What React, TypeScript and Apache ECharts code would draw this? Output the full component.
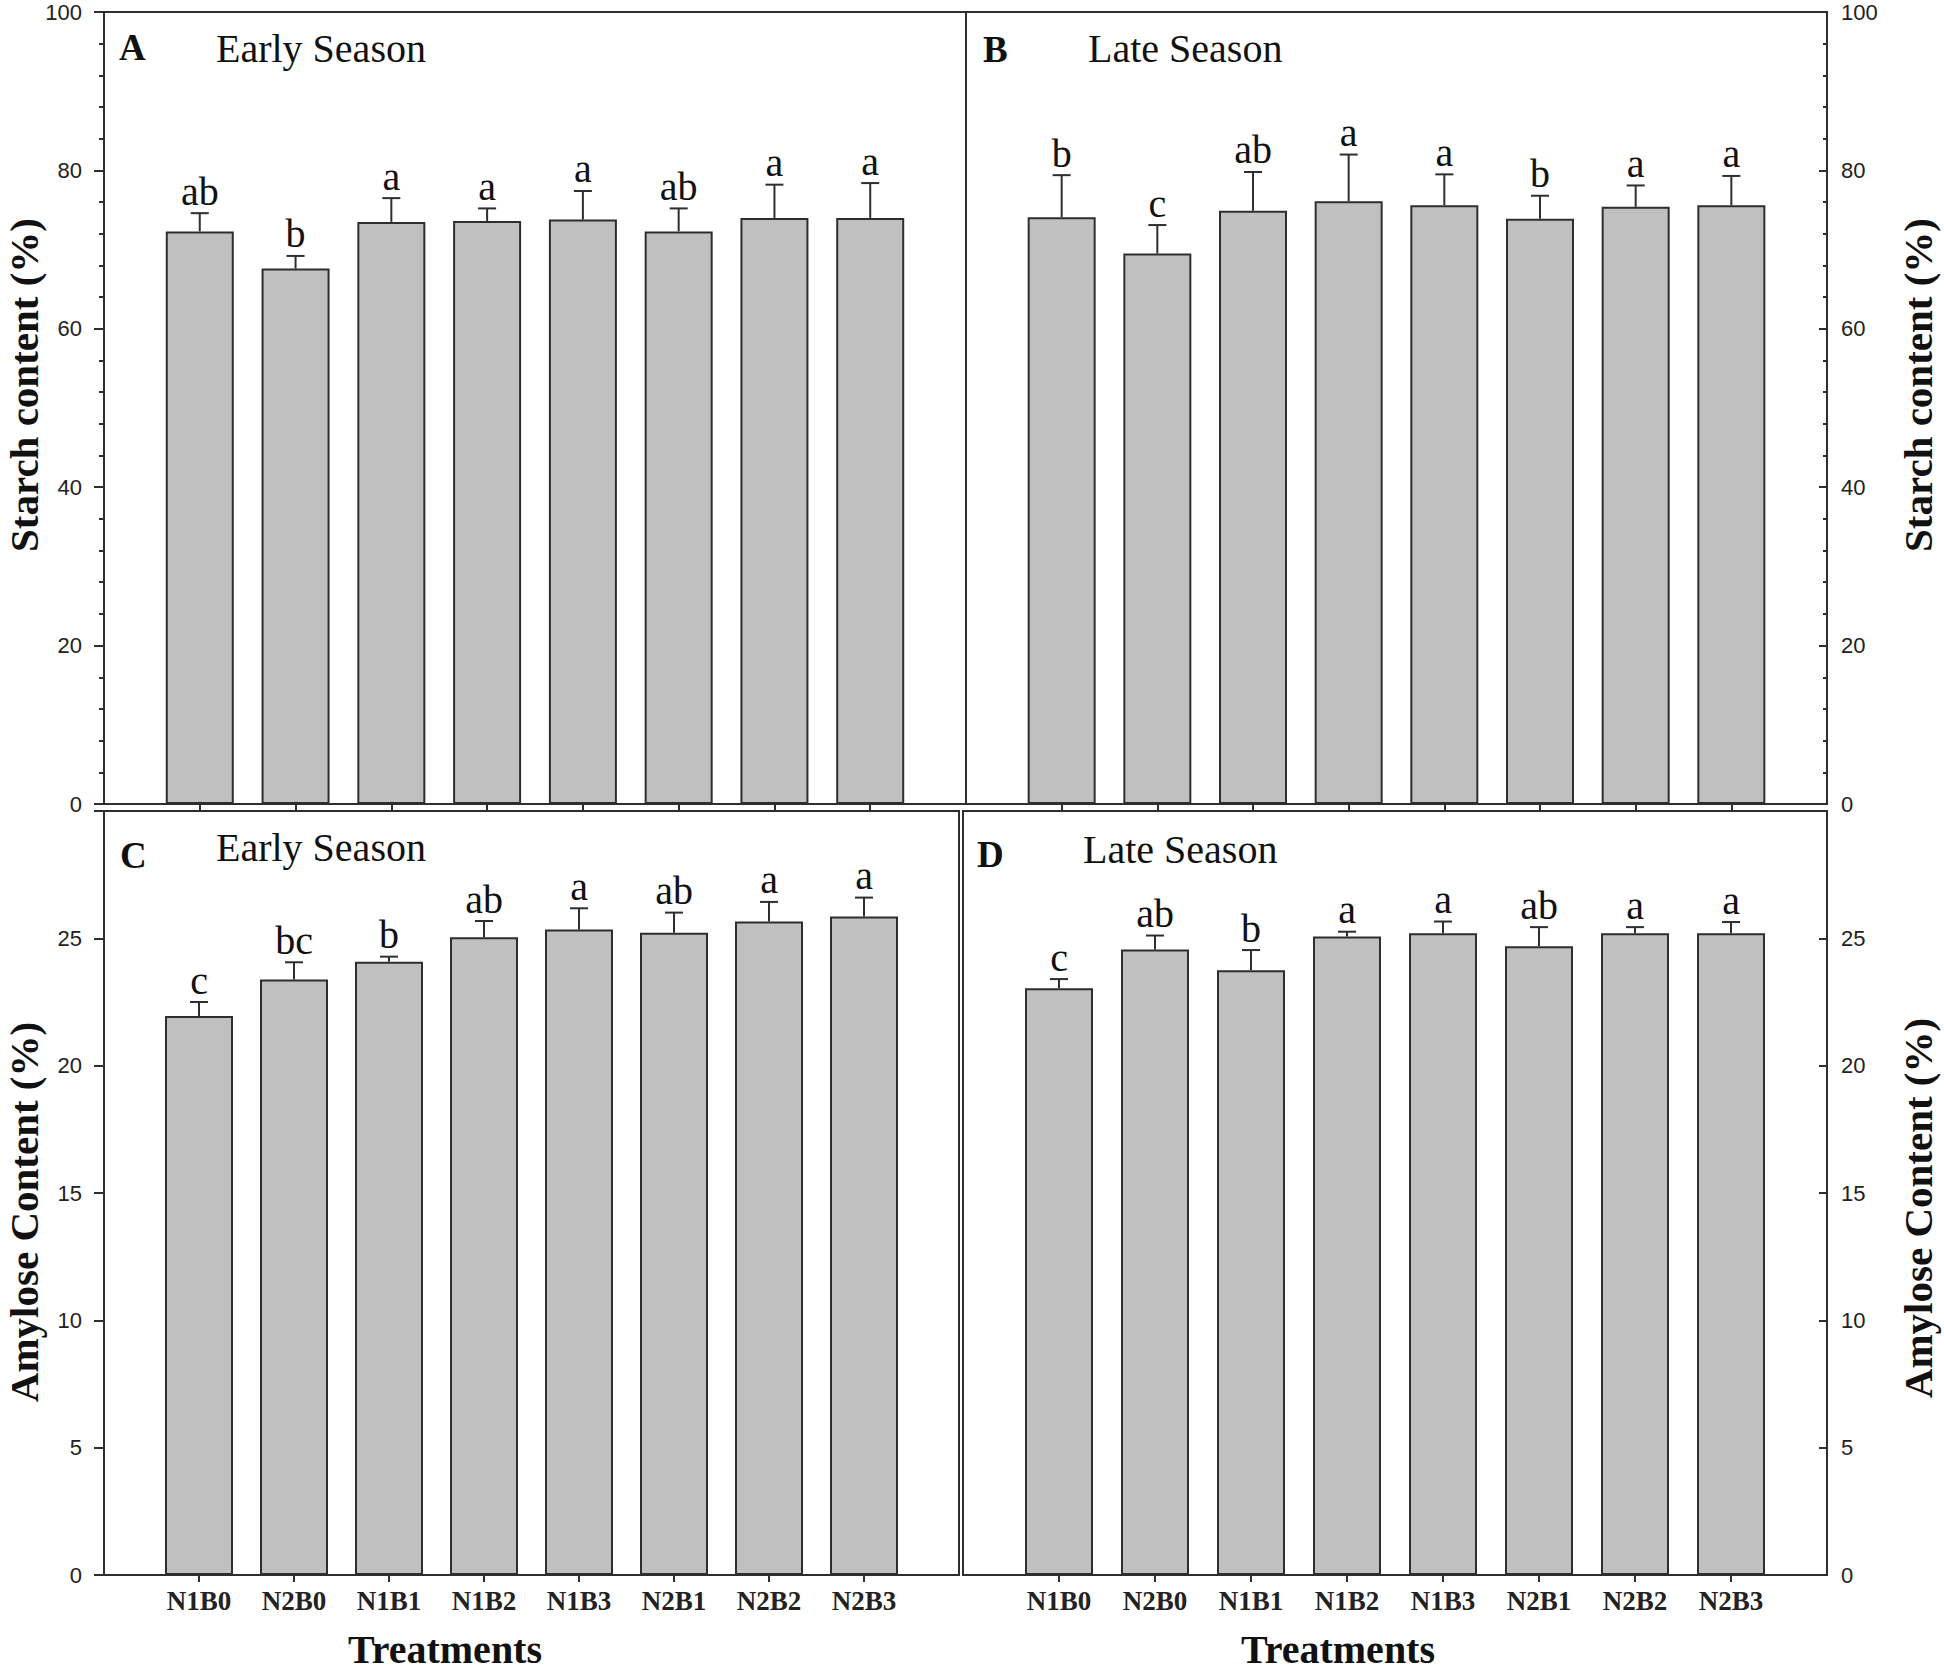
import React, { useEffect, useRef } from 'react';
import * as echarts from 'echarts';

const categories = ['N1B0', 'N2B0', 'N1B1', 'N1B2', 'N1B3', 'N2B1', 'N2B2', 'N2B3'];

const starchEarly = [72.3, 67.6, 73.5, 73.6, 73.8, 72.3, 74.0, 74.0];
const starchEarlyErr = [2.3, 1.6, 3.0, 1.6, 3.6, 2.9, 4.2, 4.4];
const starchEarlyLetters = ['ab', 'b', 'a', 'a', 'a', 'ab', 'a', 'a'];

const starchLate = [74.1, 69.5, 74.9, 76.1, 75.6, 73.9, 75.4, 75.6];
const starchLateErr = [5.3, 3.6, 4.9, 5.9, 3.9, 2.9, 2.7, 3.7];
const starchLateLetters = ['b', 'c', 'ab', 'a', 'a', 'b', 'a', 'a'];

const amyloseEarly = [21.95, 23.38, 24.08, 25.04, 25.35, 25.22, 25.66, 25.86];
const amyloseEarlyErr = [0.55, 0.68, 0.2, 0.64, 0.83, 0.79, 0.77, 0.74];
const amyloseEarlyLetters = ['c', 'bc', 'b', 'ab', 'a', 'ab', 'a', 'a'];

const amyloseLate = [23.04, 24.56, 23.75, 25.07, 25.2, 24.69, 25.2, 25.2];
const amyloseLateErr = [0.36, 0.55, 0.79, 0.19, 0.46, 0.75, 0.24, 0.44];
const amyloseLateLetters = ['c', 'ab', 'b', 'a', 'a', 'ab', 'a', 'a'];

const starchAxis = { min: 0, max: 100, interval: 20 };
const amyloseAxis = { min: 0, max: 30, interval: 5, hiddenLabel: 30 };

const panelTags = ['A', 'B', 'C', 'D'];
const panelTitles = ['Early Season', 'Late Season', 'Early Season', 'Late Season'];
const yTitles = ['Starch content (%)', 'Amylose Content (%)'];
const xTitle = 'Treatments';

const LINE = '#2e2e2e';
const SERIF = '"Liberation Serif", "Times New Roman", serif';
const SANS = '"Liberation Sans", Arial, sans-serif';

export default function App() {
  const ref = useRef<HTMLDivElement>(null);

  useEffect(() => {
    document.body.style.margin = '0';
    const chart = echarts.init(ref.current!, null, { renderer: 'svg' });

    const panels = [
      { grid: { left: 104, top: 12, width: 862, height: 792 }, values: starchEarly, errs: starchEarlyErr, letters: starchEarlyLetters, axis: starchAxis, right: false, minor: true, bottom: false },
      { grid: { left: 966, top: 12, width: 861, height: 792 }, values: starchLate, errs: starchLateErr, letters: starchLateLetters, axis: starchAxis, right: true, minor: true, bottom: false },
      { grid: { left: 104, top: 811, width: 855, height: 764 }, values: amyloseEarly, errs: amyloseEarlyErr, letters: amyloseEarlyLetters, axis: amyloseAxis, right: false, minor: false, bottom: true },
      { grid: { left: 963, top: 811, width: 864, height: 764 }, values: amyloseLate, errs: amyloseLateErr, letters: amyloseLateLetters, axis: amyloseAxis, right: true, minor: false, bottom: true },
    ];

    const idx = categories.map((_, i) => i);

    const grids = panels.map((p) => ({
      ...p.grid,
      show: true,
      borderColor: LINE,
      borderWidth: 2,
      backgroundColor: 'transparent',
      containLabel: false,
      outerBoundsMode: 'none',
    }));

    const xAxes = panels.map((p, k) => ({
      type: 'value',
      gridIndex: k,
      min: -1,
      max: 8,
      interval: 1,
      splitLine: { show: false },
      axisLine: { show: true, onZero: false, lineStyle: { color: LINE, width: 2 } },
      axisTick: { show: true, customValues: idx, length: 7, lineStyle: { color: LINE, width: 2 } },
      axisLabel: {
        show: p.bottom,
        customValues: idx,
        margin: 12,
        fontFamily: SERIF,
        fontWeight: 'bold',
        fontSize: 27,
        color: '#222',
        formatter: (v: number) => (categories[v] !== undefined ? categories[v] : ''),
      },
    }));

    const yAxes = panels.map((p, k) => ({
      type: 'value',
      gridIndex: k,
      position: p.right ? 'right' : 'left',
      min: p.axis.min,
      max: p.axis.max,
      interval: p.axis.interval,
      splitLine: { show: false },
      axisLine: { show: true, onZero: false, lineStyle: { color: LINE, width: 2 } },
      axisTick: { show: true, inside: p.right, length: p.right ? 8 : 10, lineStyle: { color: LINE, width: 2 } },
      minorTick: { show: p.minor, splitNumber: 5, length: p.right ? 4 : 5, lineStyle: { color: LINE, width: 2 } },
      axisLabel: {
        margin: p.right ? 14 : 22,
        fontFamily: SANS,
        fontSize: 22,
        color: '#222',
        formatter: (v: number) => ((p.axis as any).hiddenLabel === v ? '' : String(v)),
      },
    }));

    const series: any[] = [];
    panels.forEach((p, k) => {
      series.push({
        type: 'bar',
        xAxisIndex: k,
        yAxisIndex: k,
        barWidth: 68,
        z: 2,
        data: p.values.map((v, i) => [i, v]),
        itemStyle: { color: '#c0c0c0', borderColor: LINE, borderWidth: 2 },
      });
      series.push({
        type: 'custom',
        xAxisIndex: k,
        yAxisIndex: k,
        z: 3,
        clip: false,
        encode: { x: 0, y: 1 },
        data: p.values.map((v, i) => [i, v, p.errs[i]]),
        renderItem: (params: any, api: any) => {
          const i = api.value(0);
          const v = api.value(1);
          const e = api.value(2);
          const base = api.coord([i, v]);
          const top = api.coord([i, v + e]);
          const letter = p.letters[params.dataIndex];
          return {
            type: 'group',
            children: [
              { type: 'line', shape: { x1: base[0], y1: base[1], x2: top[0], y2: top[1] }, style: { stroke: LINE, lineWidth: 2 } },
              { type: 'line', shape: { x1: top[0] - 9, y1: top[1], x2: top[0] + 9, y2: top[1] }, style: { stroke: LINE, lineWidth: 2 } },
              {
                type: 'text',
                x: top[0],
                y: top[1] - 2,
                style: { text: letter, fill: '#111', font: `40px ${SERIF}`, align: 'center', verticalAlign: 'bottom' },
              },
            ],
          };
        },
      });
    });

    const txt = (text: string, x: number, y: number, font: string, opts: any = {}) => ({
      type: 'text',
      x,
      y,
      rotation: opts.rotation || 0,
      style: {
        text,
        fill: '#111',
        font,
        align: opts.align || 'left',
        verticalAlign: 'middle',
        textAlign: opts.align || 'left',
        textVerticalAlign: 'middle',
      },
    });

    const tagPos = [[119, 47], [983, 49], [120, 855], [977, 854]];
    const titlePos = [[216, 48], [1088, 48], [216, 847], [1083, 849]];

    const graphic: any[] = [];
    panelTags.forEach((t, k) => {
      graphic.push(txt(t, tagPos[k][0], tagPos[k][1], `bold 37px ${SERIF}`));
      graphic.push(txt(panelTitles[k], titlePos[k][0], titlePos[k][1], `40px ${SERIF}`));
    });
    graphic.push(txt(yTitles[0], 24, 385, `bold 41px ${SERIF}`, { rotation: Math.PI / 2, align: 'center' }));
    graphic.push(txt(yTitles[0], 1918, 385, `bold 41px ${SERIF}`, { rotation: Math.PI / 2, align: 'center' }));
    graphic.push(txt(yTitles[1], 24, 1212, `bold 41px ${SERIF}`, { rotation: Math.PI / 2, align: 'center' }));
    graphic.push(txt(yTitles[1], 1918, 1208, `bold 41px ${SERIF}`, { rotation: Math.PI / 2, align: 'center' }));
    graphic.push(txt(xTitle, 445, 1649, `bold 40px ${SERIF}`, { align: 'center' }));
    graphic.push(txt(xTitle, 1338, 1649, `bold 40px ${SERIF}`, { align: 'center' }));

    chart.setOption({
      animation: false,
      backgroundColor: '#ffffff',
      grid: grids,
      xAxis: xAxes,
      yAxis: yAxes,
      series,
      graphic,
    });

    return () => chart.dispose();
  }, []);

  return <div ref={ref} style={{ width: 1944, height: 1675 }} />;
}
